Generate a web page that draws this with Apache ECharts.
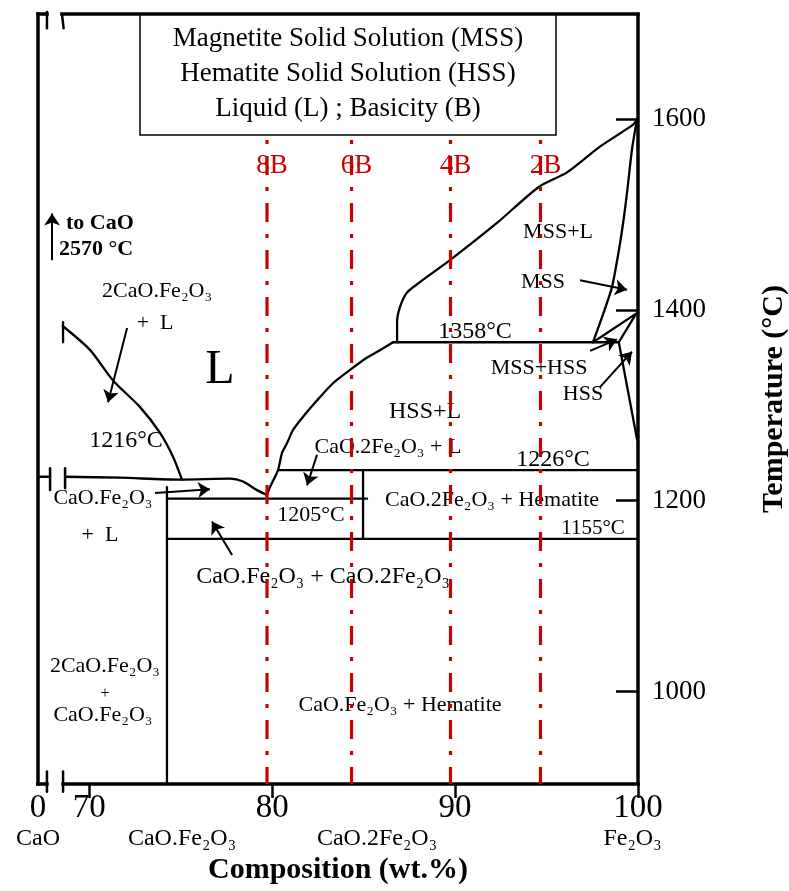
<!DOCTYPE html>
<html><head><meta charset="utf-8">
<script src="https://cdn.jsdelivr.net/npm/echarts@6/dist/echarts.min.js"></script>
<style>html,body{margin:0;padding:0;background:#fff}#c{width:789px;height:891px}</style>
</head><body><div id="c"></div>
<script>
// ---------- axis extents & ticks ----------
const xMin = 67.2, xMax = 100;          // composition axis (broken near CaO)
const tMin = 903, tMax = 1710;          // temperature axis
const xTickValues = [70, 80, 90, 100];
const xLabelValues = [67.2, 70, 80, 90, 100];
const xTickLabels = ['0', '70', '80', '90', '100'];
const yTickValues = [1000, 1200, 1400, 1600];
const compLabelX = [67.2, 75.07, 85.73, 99.7];
const compLabels = ['CaO', 'CaO.Fe₂O₃', 'CaO.2Fe₂O₃', 'Fe₂O₃'];

// ---------- phase boundaries [wt.%, °C] ----------
const liquidusUpper = [[86.83,1366],[86.83,1387],[86.99,1403],[87.37,1418],[88.08,1429],[89.72,1452],[92.29,1491],[94.59,1529],[96.12,1544],[97.92,1571],[99.73,1594],[99.95,1600]];
const liquidusHSS = [[86.61,1366],[85.75,1356],[85.19,1350],[84.26,1337],[83.33,1323],[82.45,1305],[81.69,1288],[81.14,1274],[80.81,1260],[80.54,1250],[80.32,1232],[79.88,1214],[79.72,1206]];
const liquidusCaO = [[68.55,1383],[70.04,1358],[71.30,1326],[72.78,1298],[73.87,1271],[74.58,1246],[75.07,1222]];
const liquidusCaOTick = [[68.57,1387],[68.57,1366]];
const line1216 = [[68.68,1225],[71.68,1224],[74.96,1222],[77.70,1223],[78.41,1220],[79.17,1211],[79.72,1206]];
const line1216Stub = [[67.2,1225],[67.86,1225]];
const line1205 = [[74.25,1202],[85.19,1202]];
const line1155 = [[74.25,1160],[100,1160]];
const line1226 = [[80.32,1232],[100,1232]];
const line1358 = [[86.61,1366],[98.95,1366]];
const cf2Vertical = [[84.97,1232],[84.97,1160]];
const cfVertical = [[74.25,1214],[74.25,903]];
const mssBoundary = [[99.95,1600],[99.67,1568],[99.45,1531],[99.23,1497],[98.96,1463],[98.58,1424],[98.03,1392],[97.54,1366]];
const mssHssUpper = [[97.54,1366],[99.9,1396]];
const hssUpper = [[99.9,1396],[98.95,1366]];
const hssSolvus = [[98.95,1366],[99.95,1264]];

// ---------- frame pieces with axis-break marks ----------
const frameLeft = [[67.2,1710],[67.2,903]];
const frameTopA = [[67.2,1710],[67.69,1710]];
const frameTopB = [[68.51,1710],[100,1710]];
const frameBottomA = [[67.2,903],[67.69,903]];
const frameBottomB = [[68.57,903],[100,903]];
const breakMarks = [
  [[67.69,1712],[67.69,1695]], [[68.51,1710],[68.6,1695]],
  [[67.69,916],[67.69,895]], [[68.57,916],[68.57,895]],
  [[67.86,1234],[67.86,1211]], [[68.68,1234],[68.68,1213]]
];

// ---------- basicity lines ----------
const basicityX = [79.72, 84.34, 89.75, 94.67];
const basicityNames = ['8B', '6B', '4B', '2B'];
const basicityTop = 1578, basicityLabelT = 1551;

// ---------- arrows [from, to] ----------
const arrows = [
  [[72.07,1381],[71.03,1303]],
  [[73.60,1208],[76.60,1212]],
  [[82.45,1248],[81.91,1216]],
  [[77.81,1143],[76.71,1178]],
  [[96.83,1431],[99.40,1421]],
  [[97.38,1357],[98.85,1369]],
  [[97.92,1319],[99.67,1356]],
  [[67.97,1452],[67.97,1501]]
];

// ---------- region texts [text, wt.%, °C] ----------
const regionText = [
  ['2CaO.Fe₂O₃', 73.71, 1419], ['+  L', 73.60, 1386], ['L', 77.15, 1336],
  ['1216°C', 72.01, 1263], ['CaO.Fe₂O₃', 70.75, 1203], ['+  L', 70.59, 1164],
  ['1205°C', 82.12, 1185], ['CaO.2Fe₂O₃ + L', 86.33, 1256], ['HSS+L', 88.36, 1293],
  ['1358°C', 91.09, 1377], ['1226°C', 95.35, 1243], ['CaO.2Fe₂O₃ + Hematite', 92.02, 1200],
  ['1155°C', 97.54, 1171], ['MSS+HSS', 94.59, 1339], ['HSS', 96.99, 1311],
  ['MSS+L', 95.63, 1481], ['MSS', 94.81, 1429], ['CaO.Fe₂O₃ + CaO.2Fe₂O₃', 82.78, 1120],
  ['2CaO.Fe₂O₃', 70.86, 1026], ['+', 70.86, 998], ['CaO.Fe₂O₃', 70.75, 975],
  ['CaO.Fe₂O₃ + Hematite', 86.99, 986]
];
const regionTextSize = [22,22,48, 24,22,22, 22,22,24, 24,24,22, 21,22,22, 22,22,24, 22,16,22, 22];
const boldText = [['to CaO', 68.73, 1491], ['2570 °C', 68.35, 1463]];
const legendLines = ['Magnetite Solid Solution (MSS)', 'Hematite Solid Solution (HSS)', 'Liquid (L) ; Basicity (B)'];

// ---------- build ----------
const SERIF = '"Liberation Serif","Times New Roman",Times,serif';
const INK = '#000';
const RED = '#c80000';
function nearest(v, pos, labels) {
  let b = 0;
  for (let i = 1; i < pos.length; i++) if (Math.abs(pos[i] - v) < Math.abs(pos[b] - v)) b = i;
  return labels[b];
}
function seg(data, width, opts) {
  return Object.assign({
    type: 'line', data: data, symbol: 'none', silent: true, animation: false,
    lineStyle: { color: '#000', width: width, cap: 'round', join: 'round' }, z: 3
  }, opts || {});
}
function textSeries(items, labelOpts, z) {
  return {
    type: 'scatter', silent: true, animation: false, symbol: 'circle', symbolSize: 0, z: z,
    data: items,
    label: Object.assign({ show: true, position: 'inside', formatter: '{b}', color: INK, fontFamily: SERIF,
      textBorderWidth: 0, textShadowBlur: 0, opacity: 1 }, labelOpts)
  };
}
const smoothSet = new Set([liquidusUpper, liquidusHSS, liquidusCaO, line1216, mssBoundary]);
const phaseLines = [liquidusUpper, liquidusHSS, liquidusCaO, liquidusCaOTick, line1216, line1216Stub,
  line1205, line1155, line1226, line1358, cf2Vertical, cfVertical, mssBoundary, mssHssUpper, hssUpper, hssSolvus];

const series = [];
phaseLines.forEach((d, i) => {
  const s = seg(d, 2.3, { smooth: smoothSet.has(d) ? 0.25 : false });
  if (i === 0) {
    s.markLine = {
      silent: true, animation: false, symbol: ['none', 'arrow'], symbolSize: 12,
      label: { show: false }, emphasis: { disabled: true },
      itemStyle: { color: '#000' },
      lineStyle: { color: '#000', width: 2, type: 'solid' },
      data: arrows.map(a => [{ coord: a[0] }, { coord: a[1] }])
    };
  }
  series.push(s);
});
[frameLeft, frameTopA, frameTopB, frameBottomA, frameBottomB].forEach(d =>
  series.push(seg(d, 3.5, { clip: false, lineStyle: { color: '#000', width: 3.5, cap: 'square' } })));
breakMarks.forEach(d => series.push(seg(d, 2.5, { clip: false })));

series.push(textSeries(regionText.map((d, i) => ({ value: [d[1], d[2]], name: d[0], label: { fontSize: regionTextSize[i] } })), {}, 6));
series.push(textSeries(boldText.map(d => ({ value: [d[1], d[2]], name: d[0] })), { align: 'left', fontWeight: 'bold', fontSize: 22 }, 6));
basicityX.forEach(x => series.push(seg([[x, basicityTop], [x, tMin]], 3.2, {
  z: 8, lineStyle: { color: RED, width: 3.2, type: [4, 12, 19, 12], cap: 'butt' }
})));
series.push(textSeries(basicityX.map((x, i) => ({ value: [x, basicityLabelT], name: basicityNames[i] })),
  { offset: [5, 0], color: RED, fontSize: 27 }, 8));

const chart = echarts.init(document.getElementById('c'), null, { renderer: 'canvas' });
chart.setOption({
  backgroundColor: '#fff',
  animation: false,
  grid: { left: 38, right: 151, top: 14, bottom: 107, containLabel: false, outerBoundsMode: 'none' },
  xAxis: [{
    type: 'value', min: xMin, max: xMax, position: 'bottom',
    axisLine: { show: false }, splitLine: { show: false },
    axisTick: { show: true, customValues: xTickValues, length: 14, lineStyle: { color: '#000', width: 2.5 } },
    axisLabel: { customValues: xLabelValues, formatter: v => nearest(v, xLabelValues, xTickLabels),
      fontSize: 33, fontFamily: SERIF, color: INK, margin: 8 },
    name: 'Composition (wt.%)', nameLocation: 'middle', nameGap: 71,
    nameTextStyle: { fontSize: 30, fontWeight: 'bold', fontFamily: SERIF, color: '#000' }
  }, {
    type: 'value', min: xMin, max: xMax, position: 'bottom',
    axisLine: { show: false }, axisTick: { show: false }, splitLine: { show: false },
    axisLabel: { customValues: compLabelX, formatter: v => nearest(v, compLabelX, compLabels),
      fontSize: 24, fontFamily: SERIF, color: INK, margin: 43 }
  }],
  yAxis: [{
    type: 'value', min: tMin, max: tMax, position: 'right',
    axisLine: { show: true, lineStyle: { color: '#000', width: 3.5 } },
    axisTick: { show: true, inside: true, length: 22, customValues: yTickValues, lineStyle: { color: '#000', width: 2.5 } },
    axisLabel: { customValues: yTickValues, formatter: v => String(Math.round(v)),
      fontSize: 27, fontFamily: SERIF, color: INK, margin: 14 },
    splitLine: { show: false },
    name: 'Temperature (°C)', nameLocation: 'middle', nameRotate: 90, nameGap: 121,
    nameTextStyle: { fontSize: 30, fontWeight: 'bold', fontFamily: SERIF, color: '#000' }
  }],
  graphic: [{
    type: 'group', z: 100,
    children: [
      { type: 'rect', shape: { x: 140, y: 14, width: 416, height: 121 }, style: { fill: '#fff', stroke: '#000', lineWidth: 1.5 } }
    ].concat(legendLines.map((t, i) => ({
      type: 'text', x: 348, y: 39 + i * 35,
      style: { text: t, fontSize: 27, fontFamily: SERIF, fill: INK, align: 'center', verticalAlign: 'middle' }
    })))
  }],
  series: series
});
</script></body></html>
